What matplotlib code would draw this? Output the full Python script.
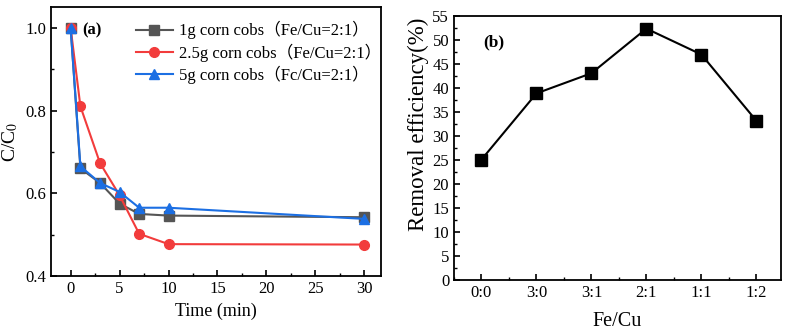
import numpy as np
import matplotlib.pyplot as plt
from matplotlib.ticker import MultipleLocator

plt.rcParams['font.family'] = ['Liberation Serif', 'Noto Sans CJK SC']
plt.rcParams['mathtext.fontset'] = 'stix'
plt.rcParams['font.size'] = 12

# panel (a)
time = [0, 1, 3, 5, 7, 10, 30]
c_1g = [1.0, 0.66, 0.625, 0.575, 0.550, 0.546, 0.542]
c_25g = [1.0, 0.81, 0.673, 0.595, 0.502, 0.477, 0.476]
c_5g = [1.0, 0.665, 0.625, 0.603, 0.565, 0.565, 0.538]
labels_a = ['1g corn cobs（Fe/Cu=2:1）', '2.5g corn cobs（Fe/Cu=2:1）', '5g corn cobs（Fc/Cu=2:1）']

# panel (b)
ratios = ['0:0', '3:0', '3:1', '2:1', '1:1', '1:2']
removal = [25.1, 38.9, 43.1, 52.4, 47.0, 33.2]

fig = plt.figure(figsize=(7.9, 3.34), dpi=100)
ax1 = fig.add_axes([0.0646, 0.1737, 0.4177, 0.805])
ax2 = fig.add_axes([0.5747, 0.1617, 0.414, 0.790])

ax1.plot(time, c_1g, '-s', color='#555555', ms=7, lw=1.5, label=labels_a[0])
ax1.plot(time, c_25g, '-o', color='#f23c3c', ms=7, lw=1.5, label=labels_a[1])
ax1.plot(time, c_5g, '-^', color='#1c6fe3', ms=7.5, lw=1.5, label=labels_a[2])
ax1.set_xlim(-2, 31.7)
ax1.set_ylim(0.4, 1.05)
ax1.xaxis.set_major_locator(MultipleLocator(5))
ax1.xaxis.set_minor_locator(MultipleLocator(2.5))
ax1.yaxis.set_major_locator(MultipleLocator(0.2))
ax1.yaxis.set_minor_locator(MultipleLocator(0.1))
ax1.set_xlabel('Time (min)', fontsize=13)
ax1.set_ylabel('C/C$_0$', fontsize=14)
ax1.text(0.095, 0.9, '(a)', transform=ax1.transAxes, fontweight='bold', fontsize=12)
ax1.legend(loc='upper right', frameon=False, fontsize=12, handlelength=2.2,
           handletextpad=0.35, labelspacing=0.25, borderaxespad=0.2,
           bbox_to_anchor=(1.03, 0.985))

ax2.plot(range(len(ratios)), removal, '-s', color='black', ms=8, lw=1.5)
ax2.set_xlim(-0.5, 5.45)
ax2.set_ylim(0, 55)
ax2.set_xticks(range(len(ratios)))
ax2.set_xticklabels(ratios)
ax2.xaxis.set_minor_locator(MultipleLocator(0.5))
ax2.yaxis.set_major_locator(MultipleLocator(5))
ax2.yaxis.set_minor_locator(MultipleLocator(2.5))
ax2.set_xlabel('Fe/Cu', fontsize=14.5, labelpad=8)
ax2.set_ylabel('Removal efficiency(%)', fontsize=16.5, labelpad=1)
ax2.yaxis.set_label_coords(-0.075, 0.59)
ax2.text(0.09, 0.9, '(b)', transform=ax2.transAxes, fontweight='bold', fontsize=12.5,
         va='center')

for ax in (ax1, ax2):
    ax.tick_params(which='both', direction='in')
    ax.tick_params(which='major', length=4, width=1.2, labelsize=12)
    ax.tick_params(which='minor', length=2.5, width=1)
    for s in ax.spines.values():
        s.set_linewidth(1.3)

fig.savefig('out.png', dpi=100)
